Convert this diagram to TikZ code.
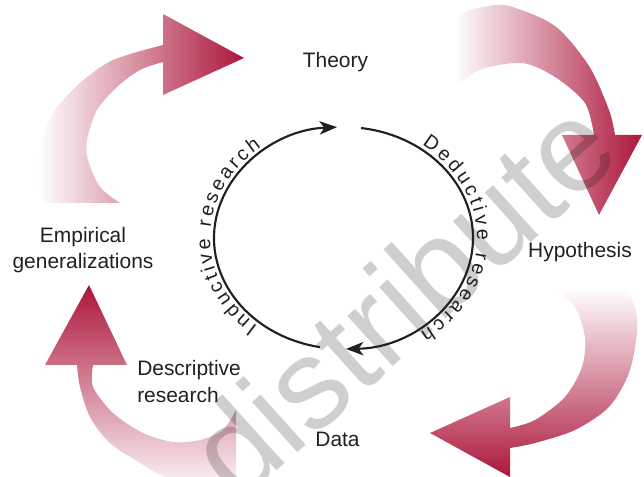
\documentclass[tikz,border=0pt]{standalone}
\usepackage{fontspec}
\setmainfont{Liberation Sans}
\usetikzlibrary{arrows.meta,calc,decorations.text}
\definecolor{crimson}{RGB}{172,22,58}
\definecolor{rosemid}{RGB}{208,112,114}
\definecolor{ink}{RGB}{35,31,32}
\newcommand\arcfont{\fontsize{14.8}{16}\selectfont}
\begin{document}
\begin{tikzpicture}[x=0.75pt,y=-0.75pt,
  termtext/.style={font=\fontsize{15.7}{20}\selectfont, text=ink, inner sep=0pt},
  cyclearc/.style={draw=ink, line width=1.6pt,
    -{Stealth[length=13pt,width=10pt,inset=3.5pt]}},
  arctext/.style={decorate, decoration={text along path,
    text align=fit to path, text color=ink, text={#1}}},
  hshade/.style={left color=white, middle color=rosemid, right color=crimson},
  vshade/.style={top color=white, middle color=rosemid, bottom color=crimson},
  vshadeup/.style={top color=crimson, middle color=rosemid, bottom color=white},
  watermark/.style={font=\fontsize{96}{96}\selectfont, text=black,
    text opacity=0.19, inner sep=0pt, rotate=42}
]
\useasboundingbox (0,0) rectangle (644,477);
\clip (0,0) rectangle (644,477);

% ---- broad shaded arrows around the cycle ----
% empirical generalizations -> theory
\shade[hshade]
  plot[smooth] coordinates {(40,203) (40,150) (53,113) (80,83) (113,60) (163,45)}
  -- (163,14) -- (244,58) -- (163,95) -- (163,62)
  -- plot[smooth] coordinates {(163,62) (140,70) (117,87) (97,110) (87,140) (88,160) (100,187) (120,203)}
  -- cycle;
% theory -> hypothesis
\shade[hshade]
  plot[smooth] coordinates {(455,15) (482,7) (509,6) (555,26) (589,66) (609,110) (615,135)}
  -- (642,135) -- (599,215) -- (562,135) -- (594,135)
  -- plot[smooth] coordinates {(594,135) (585,103) (555,77) (522,63) (479,70) (455,88)}
  -- cycle;
% hypothesis -> data
\shade[vshade]
  plot[smooth] coordinates {(627,288) (635,307) (637,333) (629,373) (609,407) (575,430) (535,443) (510,448)}
  -- (510,477) -- (430,433) -- (510,397) -- (510,428)
  -- plot[smooth] coordinates {(510,428) (535,420) (565,397) (582,367) (585,337) (575,307) (555,288)}
  -- cycle;
% data -> empirical generalizations
\shade[vshadeup]
  plot[smooth] coordinates {(236,410) (223,430) (200,440) (173,442) (143,433) (113,413) (93,387) (93,365)}
  -- (127,365) -- (89,285) -- (45,365) -- (77,365)
  -- plot[smooth] coordinates {(77,365) (80,387) (90,417) (110,443) (140,463) (165,477) (200,490) (236,496)}
  -- cycle;

% ---- faint lettering across the figure ----
\node[watermark] (mark) at (401,298) {distribute};

% ---- stage labels ----
\node[termtext, anchor=base] (theory) at (335.5,68) {Theory};
\node[termtext, anchor=base] (hypothesis) at (580,258) {Hypothesis};
\node[termtext, anchor=base] (data) at (337.5,447) {Data};
\node[termtext, align=center] (empirical) at (83,250) {Empirical\\generalizations};
\node[termtext, align=left, anchor=west] (descriptive) at (137,381.8) {Descriptive\\research};

% ---- inner research cycle ----
\coordinate (hub) at (343.5,238);
\draw[cyclearc] ($(hub)+(100.5:129.5 and 111)$)
  arc[start angle=100.5, end angle=267.1, x radius=129.5, y radius=111];
\draw[cyclearc] ($(hub)+(277.8:129.5 and 111)$)
  arc[start angle=277.8, end angle=448.9, x radius=129.5, y radius=111];

\path[arctext={|\arcfont|Inductive research}] ($(hub)+(130:133.5 and 115)$)
  arc[start angle=130, end angle=232, x radius=133.5, y radius=115];
\path[arctext={|\arcfont|Deductive research}] ($(hub)+(306:133.5 and 115)$)
  arc[start angle=306, end angle=415, x radius=133.5, y radius=115];
\end{tikzpicture}
\end{document}
